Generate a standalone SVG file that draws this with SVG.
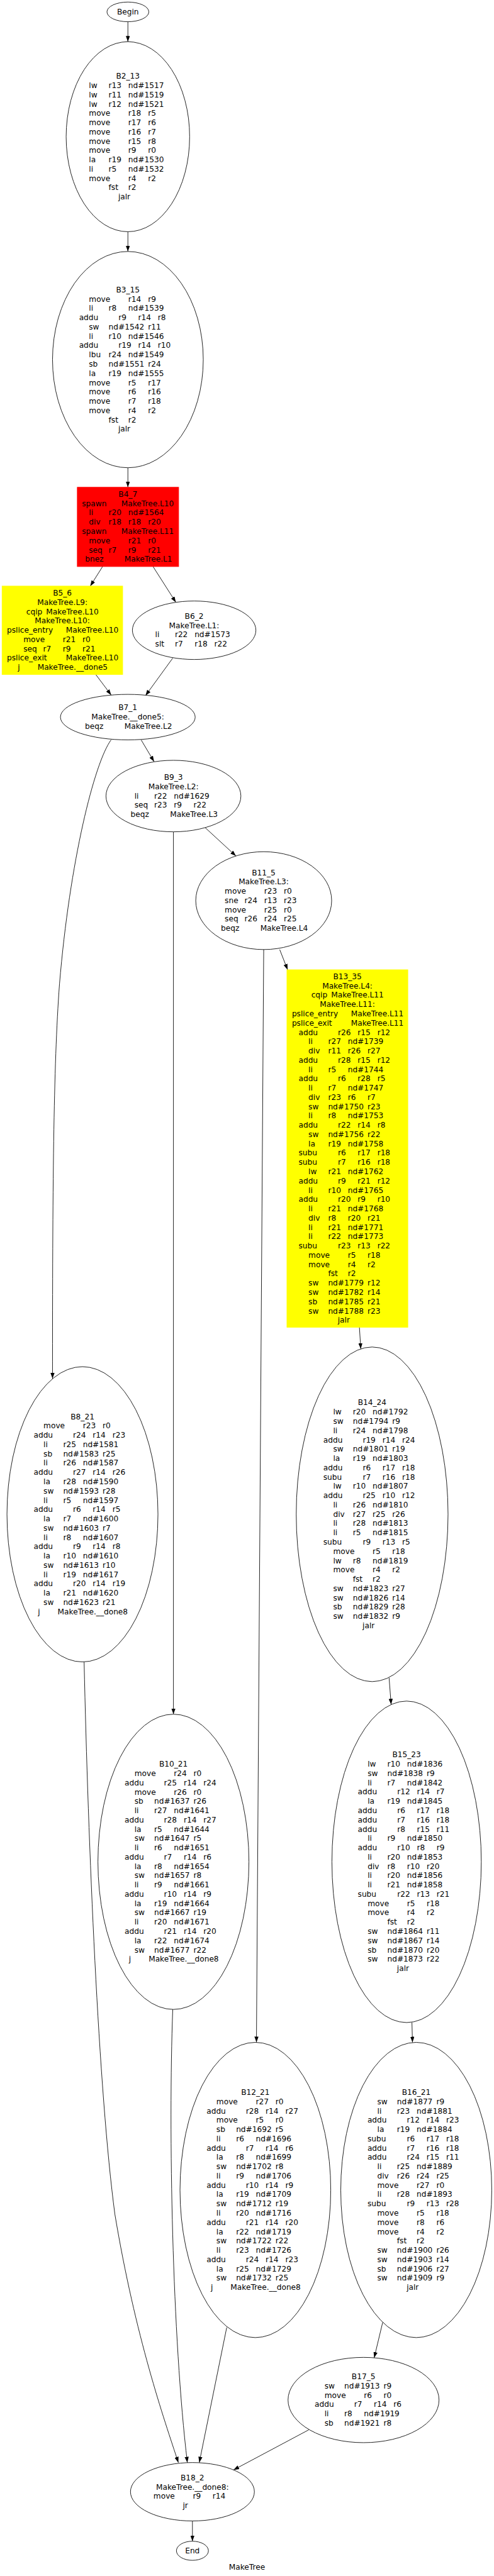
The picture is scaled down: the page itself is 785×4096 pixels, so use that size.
<svg xmlns="http://www.w3.org/2000/svg" width="785" height="4096" viewBox="0 0 785 4096">
<defs>
<style>
text{font-family:"DejaVu Sans",sans-serif;font-size:18.67px;fill:#000}
.c{text-anchor:middle}
.n{fill:#fff;stroke:#000;stroke-width:1.33}
.red{fill:#ff0000;stroke:#ff0000;stroke-width:1.33}
.yel{fill:#ffff00;stroke:#ffff00;stroke-width:1.33}
.e{fill:none;stroke:#000;stroke-width:1.33;marker-end:url(#arr)}
</style>
<marker id="arr" markerUnits="userSpaceOnUse" markerWidth="14" markerHeight="10" viewBox="0 0 14 10" refX="14" refY="5" orient="auto"><path d="M0,0 L14,5 L0,10 z" fill="#000"/></marker>
</defs>
<rect x="0" y="0" width="785" height="4096" fill="#fff"/>
<g transform="scale(0.652)">
<g id="edges">
<path class="e" d="M311.7,53 L311.7,101.7"/>
<path class="e" d="M311.7,565 L311.7,613.3"/>
<path class="e" d="M311.7,1140.7 L311.7,1188.3"/>
<path class="e" d="M250,1381.7 L220,1429.3"/>
<path class="e" d="M373,1381.7 L428.6,1468.9"/>
<path class="e" d="M233.4,1645 L271,1695"/>
<path class="e" d="M421,1605 L354.6,1696.5"/>
<path class="e" d="M344,1804.4 L375.5,1857.5"/>
<path class="e" d="M270.7,1804.4 C230,1860 170,2100 145,2400 C130,2600 128,2900 128,3362"/>
<path class="e" d="M422.7,2028.6 L422.7,4180.5"/>
<path class="e" d="M500,2018.4 L575,2087.5"/>
<path class="e" d="M681.7,2315.7 L701,2365"/>
<path class="e" d="M642.7,2315.7 L625,4980.8"/>
<path class="e" d="M876,3237 L879.3,3289.6"/>
<path class="e" d="M948.3,4091.7 L953.3,4157"/>
<path class="e" d="M1004,4932.5 L1005.3,4981"/>
<path class="e" d="M932.6,5664 L912,5750"/>
<path class="e" d="M752.6,5925.7 L568.9,6023.6"/>
<path class="e" d="M552.6,5676 L485.7,6005.6"/>
<path class="e" d="M421,4900.5 C410,5200 420,5700 456.6,6005.6"/>
<path class="e" d="M205,4053 C215,4500 240,5100 280,5400 C330,5700 400,5900 434.7,6005.6"/>
<path class="e" d="M469,6148 L469,6197.4"/>
</g>
<g id="Begin"><ellipse class="n" cx="311.7" cy="29" rx="51" ry="24"/><text class="c" x="311.7" y="34.9">Begin</text></g>
<g id="B2_13"><ellipse class="n" cx="311.7" cy="333.4" rx="150.5" ry="231.7"/>
<g transform="translate(311.7,192.1)"><text class="c" y="0">B2_13</text>
<text y="22.65"><tspan x="-95">lw</tspan><tspan x="-47">r13</tspan><tspan x="1">nd#1517</tspan></text>
<text y="45.3"><tspan x="-95">lw</tspan><tspan x="-47">r11</tspan><tspan x="1">nd#1519</tspan></text>
<text y="67.95"><tspan x="-95">lw</tspan><tspan x="-47">r12</tspan><tspan x="1">nd#1521</tspan></text>
<text y="90.6"><tspan x="-95">move</tspan><tspan x="1">r18</tspan><tspan x="49">r5</tspan></text>
<text y="113.25"><tspan x="-95">move</tspan><tspan x="1">r17</tspan><tspan x="49">r6</tspan></text>
<text y="135.9"><tspan x="-95">move</tspan><tspan x="1">r16</tspan><tspan x="49">r7</tspan></text>
<text y="158.55"><tspan x="-95">move</tspan><tspan x="1">r15</tspan><tspan x="49">r8</tspan></text>
<text y="181.2"><tspan x="-95">move</tspan><tspan x="1">r9</tspan><tspan x="49">r0</tspan></text>
<text y="203.85"><tspan x="-95">la</tspan><tspan x="-47">r19</tspan><tspan x="1">nd#1530</tspan></text>
<text y="226.5"><tspan x="-95">li</tspan><tspan x="-47">r5</tspan><tspan x="1">nd#1532</tspan></text>
<text y="249.15"><tspan x="-95">move</tspan><tspan x="1">r4</tspan><tspan x="49">r2</tspan></text>
<text y="271.8"><tspan x="-47">fst</tspan><tspan x="1">r2</tspan></text>
<text y="294.45"><tspan x="-23.5">jalr</tspan></text></g></g>
<g id="B3_15"><ellipse class="n" cx="311.7" cy="877" rx="183.7" ry="263.7"/>
<g transform="translate(311.7,713)"><text class="c" y="0">B3_15</text>
<text y="22.65"><tspan x="-95">move</tspan><tspan x="1">r14</tspan><tspan x="49">r9</tspan></text>
<text y="45.3"><tspan x="-95">li</tspan><tspan x="-47">r8</tspan><tspan x="1">nd#1539</tspan></text>
<text y="67.95"><tspan x="-119">addu</tspan><tspan x="-23">r9</tspan><tspan x="25">r14</tspan><tspan x="73">r8</tspan></text>
<text y="90.6"><tspan x="-95">sw</tspan><tspan x="-47">nd#1542</tspan><tspan x="49">r11</tspan></text>
<text y="113.25"><tspan x="-95">li</tspan><tspan x="-47">r10</tspan><tspan x="1">nd#1546</tspan></text>
<text y="135.9"><tspan x="-119">addu</tspan><tspan x="-23">r19</tspan><tspan x="25">r14</tspan><tspan x="73">r10</tspan></text>
<text y="158.55"><tspan x="-95">lbu</tspan><tspan x="-47">r24</tspan><tspan x="1">nd#1549</tspan></text>
<text y="181.2"><tspan x="-95">sb</tspan><tspan x="-47">nd#1551</tspan><tspan x="49">r24</tspan></text>
<text y="203.85"><tspan x="-95">la</tspan><tspan x="-47">r19</tspan><tspan x="1">nd#1555</tspan></text>
<text y="226.5"><tspan x="-95">move</tspan><tspan x="1">r5</tspan><tspan x="49">r17</tspan></text>
<text y="249.15"><tspan x="-95">move</tspan><tspan x="1">r6</tspan><tspan x="49">r16</tspan></text>
<text y="271.8"><tspan x="-95">move</tspan><tspan x="1">r7</tspan><tspan x="49">r18</tspan></text>
<text y="294.45"><tspan x="-95">move</tspan><tspan x="1">r4</tspan><tspan x="49">r2</tspan></text>
<text y="317.1"><tspan x="-47">fst</tspan><tspan x="1">r2</tspan></text>
<text y="339.75"><tspan x="-23.5">jalr</tspan></text></g></g>
<g id="B4_7"><rect class="red" x="188.4" y="1188.3" width="247" height="193.4"/>
<g transform="translate(311.7,1211.6)"><text class="c" y="0">B4_7</text>
<text y="22.65"><tspan x="-112">spawn</tspan><tspan x="-16">MakeTree.L10</tspan></text>
<text y="45.3"><tspan x="-95">li</tspan><tspan x="-47">r20</tspan><tspan x="1">nd#1564</tspan></text>
<text y="67.95"><tspan x="-95">div</tspan><tspan x="-47">r18</tspan><tspan x="1">r18</tspan><tspan x="49">r20</tspan></text>
<text y="90.6"><tspan x="-112">spawn</tspan><tspan x="-16">MakeTree.L11</tspan></text>
<text y="113.25"><tspan x="-95">move</tspan><tspan x="1">r21</tspan><tspan x="49">r0</tspan></text>
<text y="135.9"><tspan x="-95">seq</tspan><tspan x="-47">r7</tspan><tspan x="1">r9</tspan><tspan x="49">r21</tspan></text>
<text y="158.55"><tspan x="-104.3">bnez</tspan><tspan x="-8.3">MakeTree.L1</tspan></text></g></g>
<g id="B5_6"><rect class="yel" x="5" y="1429.3" width="294" height="215.7"/>
<g transform="translate(152,1452.5)"><text class="c" y="0">B5_6</text>
<text class="c" y="22.65">MakeTree.L9:</text>
<text y="45.3"><tspan x="-88">cqip</tspan><tspan x="-39.5">MakeTree.L10</tspan></text>
<text class="c" y="67.95">MakeTree.L10:</text>
<text y="90.6"><tspan x="-135.2">pslice_entry</tspan><tspan x="8.8">MakeTree.L10</tspan></text>
<text y="113.25"><tspan x="-95">move</tspan><tspan x="1">r21</tspan><tspan x="49">r0</tspan></text>
<text y="135.9"><tspan x="-95">seq</tspan><tspan x="-47">r7</tspan><tspan x="1">r9</tspan><tspan x="49">r21</tspan></text>
<text y="158.55"><tspan x="-135.2">pslice_exit</tspan><tspan x="8.8">MakeTree.L10</tspan></text>
<text y="181.2"><tspan x="-108.5">j</tspan><tspan x="-60.5">MakeTree.__done5</tspan></text></g></g>
<g id="B6_2"><ellipse class="n" cx="473.2" cy="1537" rx="150.5" ry="71.3"/>
<g transform="translate(473.2,1508.9)"><text class="c" y="0">B6_2</text>
<text class="c" y="22.65">MakeTree.L1:</text>
<text y="45.3"><tspan x="-95">li</tspan><tspan x="-47">r22</tspan><tspan x="1">nd#1573</tspan></text>
<text y="67.95"><tspan x="-95">slt</tspan><tspan x="-47">r7</tspan><tspan x="1">r18</tspan><tspan x="49">r22</tspan></text></g></g>
<g id="B7_1"><ellipse class="n" cx="311.5" cy="1748.9" rx="164.2" ry="55.5"/>
<g transform="translate(311.5,1732.2)"><text class="c" y="0">B7_1</text>
<text class="c" y="22.65">MakeTree.__done5:</text>
<text y="45.3"><tspan x="-104.3">beqz</tspan><tspan x="-8.3">MakeTree.L2</tspan></text></g></g>
<g id="B8_21"><ellipse class="n" cx="201" cy="3693" rx="184" ry="360"/>
<g transform="translate(201,3461.1)"><text class="c" y="0">B8_21</text>
<text y="22.65"><tspan x="-95">move</tspan><tspan x="1">r23</tspan><tspan x="49">r0</tspan></text>
<text y="45.3"><tspan x="-119">addu</tspan><tspan x="-23">r24</tspan><tspan x="25">r14</tspan><tspan x="73">r23</tspan></text>
<text y="67.95"><tspan x="-95">li</tspan><tspan x="-47">r25</tspan><tspan x="1">nd#1581</tspan></text>
<text y="90.6"><tspan x="-95">sb</tspan><tspan x="-47">nd#1583</tspan><tspan x="49">r25</tspan></text>
<text y="113.25"><tspan x="-95">li</tspan><tspan x="-47">r26</tspan><tspan x="1">nd#1587</tspan></text>
<text y="135.9"><tspan x="-119">addu</tspan><tspan x="-23">r27</tspan><tspan x="25">r14</tspan><tspan x="73">r26</tspan></text>
<text y="158.55"><tspan x="-95">la</tspan><tspan x="-47">r28</tspan><tspan x="1">nd#1590</tspan></text>
<text y="181.2"><tspan x="-95">sw</tspan><tspan x="-47">nd#1593</tspan><tspan x="49">r28</tspan></text>
<text y="203.85"><tspan x="-95">li</tspan><tspan x="-47">r5</tspan><tspan x="1">nd#1597</tspan></text>
<text y="226.5"><tspan x="-119">addu</tspan><tspan x="-23">r6</tspan><tspan x="25">r14</tspan><tspan x="73">r5</tspan></text>
<text y="249.15"><tspan x="-95">la</tspan><tspan x="-47">r7</tspan><tspan x="1">nd#1600</tspan></text>
<text y="271.8"><tspan x="-95">sw</tspan><tspan x="-47">nd#1603</tspan><tspan x="49">r7</tspan></text>
<text y="294.45"><tspan x="-95">li</tspan><tspan x="-47">r8</tspan><tspan x="1">nd#1607</tspan></text>
<text y="317.1"><tspan x="-119">addu</tspan><tspan x="-23">r9</tspan><tspan x="25">r14</tspan><tspan x="73">r8</tspan></text>
<text y="339.75"><tspan x="-95">la</tspan><tspan x="-47">r10</tspan><tspan x="1">nd#1610</tspan></text>
<text y="362.4"><tspan x="-95">sw</tspan><tspan x="-47">nd#1613</tspan><tspan x="49">r10</tspan></text>
<text y="385.05"><tspan x="-95">li</tspan><tspan x="-47">r19</tspan><tspan x="1">nd#1617</tspan></text>
<text y="407.7"><tspan x="-119">addu</tspan><tspan x="-23">r20</tspan><tspan x="25">r14</tspan><tspan x="73">r19</tspan></text>
<text y="430.35"><tspan x="-95">la</tspan><tspan x="-47">r21</tspan><tspan x="1">nd#1620</tspan></text>
<text y="453"><tspan x="-95">sw</tspan><tspan x="-47">nd#1623</tspan><tspan x="49">r21</tspan></text>
<text y="475.65"><tspan x="-108.5">j</tspan><tspan x="-60.5">MakeTree.__done8</tspan></text></g></g>
<g id="B9_3"><ellipse class="n" cx="422.7" cy="1941.4" rx="164.4" ry="87.2"/>
<g transform="translate(422.7,1902)"><text class="c" y="0">B9_3</text>
<text class="c" y="22.65">MakeTree.L2:</text>
<text y="45.3"><tspan x="-95">li</tspan><tspan x="-47">r22</tspan><tspan x="1">nd#1629</tspan></text>
<text y="67.95"><tspan x="-95">seq</tspan><tspan x="-47">r23</tspan><tspan x="1">r9</tspan><tspan x="49">r22</tspan></text>
<text y="90.6"><tspan x="-104.3">beqz</tspan><tspan x="-8.3">MakeTree.L3</tspan></text></g></g>
<g id="B10_21"><ellipse class="n" cx="422.7" cy="4540.5" rx="184" ry="360"/>
<g transform="translate(422.7,4308.6)"><text class="c" y="0">B10_21</text>
<text y="22.65"><tspan x="-95">move</tspan><tspan x="1">r24</tspan><tspan x="49">r0</tspan></text>
<text y="45.3"><tspan x="-119">addu</tspan><tspan x="-23">r25</tspan><tspan x="25">r14</tspan><tspan x="73">r24</tspan></text>
<text y="67.95"><tspan x="-95">move</tspan><tspan x="1">r26</tspan><tspan x="49">r0</tspan></text>
<text y="90.6"><tspan x="-95">sb</tspan><tspan x="-47">nd#1637</tspan><tspan x="49">r26</tspan></text>
<text y="113.25"><tspan x="-95">li</tspan><tspan x="-47">r27</tspan><tspan x="1">nd#1641</tspan></text>
<text y="135.9"><tspan x="-119">addu</tspan><tspan x="-23">r28</tspan><tspan x="25">r14</tspan><tspan x="73">r27</tspan></text>
<text y="158.55"><tspan x="-95">la</tspan><tspan x="-47">r5</tspan><tspan x="1">nd#1644</tspan></text>
<text y="181.2"><tspan x="-95">sw</tspan><tspan x="-47">nd#1647</tspan><tspan x="49">r5</tspan></text>
<text y="203.85"><tspan x="-95">li</tspan><tspan x="-47">r6</tspan><tspan x="1">nd#1651</tspan></text>
<text y="226.5"><tspan x="-119">addu</tspan><tspan x="-23">r7</tspan><tspan x="25">r14</tspan><tspan x="73">r6</tspan></text>
<text y="249.15"><tspan x="-95">la</tspan><tspan x="-47">r8</tspan><tspan x="1">nd#1654</tspan></text>
<text y="271.8"><tspan x="-95">sw</tspan><tspan x="-47">nd#1657</tspan><tspan x="49">r8</tspan></text>
<text y="294.45"><tspan x="-95">li</tspan><tspan x="-47">r9</tspan><tspan x="1">nd#1661</tspan></text>
<text y="317.1"><tspan x="-119">addu</tspan><tspan x="-23">r10</tspan><tspan x="25">r14</tspan><tspan x="73">r9</tspan></text>
<text y="339.75"><tspan x="-95">la</tspan><tspan x="-47">r19</tspan><tspan x="1">nd#1664</tspan></text>
<text y="362.4"><tspan x="-95">sw</tspan><tspan x="-47">nd#1667</tspan><tspan x="49">r19</tspan></text>
<text y="385.05"><tspan x="-95">li</tspan><tspan x="-47">r20</tspan><tspan x="1">nd#1671</tspan></text>
<text y="407.7"><tspan x="-119">addu</tspan><tspan x="-23">r21</tspan><tspan x="25">r14</tspan><tspan x="73">r20</tspan></text>
<text y="430.35"><tspan x="-95">la</tspan><tspan x="-47">r22</tspan><tspan x="1">nd#1674</tspan></text>
<text y="453"><tspan x="-95">sw</tspan><tspan x="-47">nd#1677</tspan><tspan x="49">r22</tspan></text>
<text y="475.65"><tspan x="-108.5">j</tspan><tspan x="-60.5">MakeTree.__done8</tspan></text></g></g>
<g id="B11_5"><ellipse class="n" cx="642.7" cy="2196.4" rx="165.6" ry="119.3"/>
<g transform="translate(642.7,2134.4)"><text class="c" y="0">B11_5</text>
<text class="c" y="22.65">MakeTree.L3:</text>
<text y="45.3"><tspan x="-95">move</tspan><tspan x="1">r23</tspan><tspan x="49">r0</tspan></text>
<text y="67.95"><tspan x="-95">sne</tspan><tspan x="-47">r24</tspan><tspan x="1">r13</tspan><tspan x="49">r23</tspan></text>
<text y="90.6"><tspan x="-95">move</tspan><tspan x="1">r25</tspan><tspan x="49">r0</tspan></text>
<text y="113.25"><tspan x="-95">seq</tspan><tspan x="-47">r26</tspan><tspan x="1">r24</tspan><tspan x="49">r25</tspan></text>
<text y="135.9"><tspan x="-104.3">beqz</tspan><tspan x="-8.3">MakeTree.L4</tspan></text></g></g>
<g id="B12_21"><ellipse class="n" cx="622.4" cy="5340.8" rx="183.7" ry="360"/>
<g transform="translate(622.4,5108.9)"><text class="c" y="0">B12_21</text>
<text y="22.65"><tspan x="-95">move</tspan><tspan x="1">r27</tspan><tspan x="49">r0</tspan></text>
<text y="45.3"><tspan x="-119">addu</tspan><tspan x="-23">r28</tspan><tspan x="25">r14</tspan><tspan x="73">r27</tspan></text>
<text y="67.95"><tspan x="-95">move</tspan><tspan x="1">r5</tspan><tspan x="49">r0</tspan></text>
<text y="90.6"><tspan x="-95">sb</tspan><tspan x="-47">nd#1692</tspan><tspan x="49">r5</tspan></text>
<text y="113.25"><tspan x="-95">li</tspan><tspan x="-47">r6</tspan><tspan x="1">nd#1696</tspan></text>
<text y="135.9"><tspan x="-119">addu</tspan><tspan x="-23">r7</tspan><tspan x="25">r14</tspan><tspan x="73">r6</tspan></text>
<text y="158.55"><tspan x="-95">la</tspan><tspan x="-47">r8</tspan><tspan x="1">nd#1699</tspan></text>
<text y="181.2"><tspan x="-95">sw</tspan><tspan x="-47">nd#1702</tspan><tspan x="49">r8</tspan></text>
<text y="203.85"><tspan x="-95">li</tspan><tspan x="-47">r9</tspan><tspan x="1">nd#1706</tspan></text>
<text y="226.5"><tspan x="-119">addu</tspan><tspan x="-23">r10</tspan><tspan x="25">r14</tspan><tspan x="73">r9</tspan></text>
<text y="249.15"><tspan x="-95">la</tspan><tspan x="-47">r19</tspan><tspan x="1">nd#1709</tspan></text>
<text y="271.8"><tspan x="-95">sw</tspan><tspan x="-47">nd#1712</tspan><tspan x="49">r19</tspan></text>
<text y="294.45"><tspan x="-95">li</tspan><tspan x="-47">r20</tspan><tspan x="1">nd#1716</tspan></text>
<text y="317.1"><tspan x="-119">addu</tspan><tspan x="-23">r21</tspan><tspan x="25">r14</tspan><tspan x="73">r20</tspan></text>
<text y="339.75"><tspan x="-95">la</tspan><tspan x="-47">r22</tspan><tspan x="1">nd#1719</tspan></text>
<text y="362.4"><tspan x="-95">sw</tspan><tspan x="-47">nd#1722</tspan><tspan x="49">r22</tspan></text>
<text y="385.05"><tspan x="-95">li</tspan><tspan x="-47">r23</tspan><tspan x="1">nd#1726</tspan></text>
<text y="407.7"><tspan x="-119">addu</tspan><tspan x="-23">r24</tspan><tspan x="25">r14</tspan><tspan x="73">r23</tspan></text>
<text y="430.35"><tspan x="-95">la</tspan><tspan x="-47">r25</tspan><tspan x="1">nd#1729</tspan></text>
<text y="453"><tspan x="-95">sw</tspan><tspan x="-47">nd#1732</tspan><tspan x="49">r25</tspan></text>
<text y="475.65"><tspan x="-108.5">j</tspan><tspan x="-60.5">MakeTree.__done8</tspan></text></g></g>
<g id="B13_35"><rect class="yel" x="699.3" y="2365" width="294.7" height="872"/>
<g transform="translate(846.7,2387.9)"><text class="c" y="0">B13_35</text>
<text class="c" y="22.65">MakeTree.L4:</text>
<text y="45.3"><tspan x="-88">cqip</tspan><tspan x="-39.5">MakeTree.L11</tspan></text>
<text class="c" y="67.95">MakeTree.L11:</text>
<text y="90.6"><tspan x="-135.2">pslice_entry</tspan><tspan x="8.8">MakeTree.L11</tspan></text>
<text y="113.25"><tspan x="-135.2">pslice_exit</tspan><tspan x="8.8">MakeTree.L11</tspan></text>
<text y="135.9"><tspan x="-119">addu</tspan><tspan x="-23">r26</tspan><tspan x="25">r15</tspan><tspan x="73">r12</tspan></text>
<text y="158.55"><tspan x="-95">li</tspan><tspan x="-47">r27</tspan><tspan x="1">nd#1739</tspan></text>
<text y="181.2"><tspan x="-95">div</tspan><tspan x="-47">r11</tspan><tspan x="1">r26</tspan><tspan x="49">r27</tspan></text>
<text y="203.85"><tspan x="-119">addu</tspan><tspan x="-23">r28</tspan><tspan x="25">r15</tspan><tspan x="73">r12</tspan></text>
<text y="226.5"><tspan x="-95">li</tspan><tspan x="-47">r5</tspan><tspan x="1">nd#1744</tspan></text>
<text y="249.15"><tspan x="-119">addu</tspan><tspan x="-23">r6</tspan><tspan x="25">r28</tspan><tspan x="73">r5</tspan></text>
<text y="271.8"><tspan x="-95">li</tspan><tspan x="-47">r7</tspan><tspan x="1">nd#1747</tspan></text>
<text y="294.45"><tspan x="-95">div</tspan><tspan x="-47">r23</tspan><tspan x="1">r6</tspan><tspan x="49">r7</tspan></text>
<text y="317.1"><tspan x="-95">sw</tspan><tspan x="-47">nd#1750</tspan><tspan x="49">r23</tspan></text>
<text y="339.75"><tspan x="-95">li</tspan><tspan x="-47">r8</tspan><tspan x="1">nd#1753</tspan></text>
<text y="362.4"><tspan x="-119">addu</tspan><tspan x="-23">r22</tspan><tspan x="25">r14</tspan><tspan x="73">r8</tspan></text>
<text y="385.05"><tspan x="-95">sw</tspan><tspan x="-47">nd#1756</tspan><tspan x="49">r22</tspan></text>
<text y="407.7"><tspan x="-95">la</tspan><tspan x="-47">r19</tspan><tspan x="1">nd#1758</tspan></text>
<text y="430.35"><tspan x="-119">subu</tspan><tspan x="-23">r6</tspan><tspan x="25">r17</tspan><tspan x="73">r18</tspan></text>
<text y="453"><tspan x="-119">subu</tspan><tspan x="-23">r7</tspan><tspan x="25">r16</tspan><tspan x="73">r18</tspan></text>
<text y="475.65"><tspan x="-95">lw</tspan><tspan x="-47">r21</tspan><tspan x="1">nd#1762</tspan></text>
<text y="498.3"><tspan x="-119">addu</tspan><tspan x="-23">r9</tspan><tspan x="25">r21</tspan><tspan x="73">r12</tspan></text>
<text y="520.95"><tspan x="-95">li</tspan><tspan x="-47">r10</tspan><tspan x="1">nd#1765</tspan></text>
<text y="543.6"><tspan x="-119">addu</tspan><tspan x="-23">r20</tspan><tspan x="25">r9</tspan><tspan x="73">r10</tspan></text>
<text y="566.25"><tspan x="-95">li</tspan><tspan x="-47">r21</tspan><tspan x="1">nd#1768</tspan></text>
<text y="588.9"><tspan x="-95">div</tspan><tspan x="-47">r8</tspan><tspan x="1">r20</tspan><tspan x="49">r21</tspan></text>
<text y="611.55"><tspan x="-95">li</tspan><tspan x="-47">r21</tspan><tspan x="1">nd#1771</tspan></text>
<text y="634.2"><tspan x="-95">li</tspan><tspan x="-47">r22</tspan><tspan x="1">nd#1773</tspan></text>
<text y="656.85"><tspan x="-119">subu</tspan><tspan x="-23">r23</tspan><tspan x="25">r13</tspan><tspan x="73">r22</tspan></text>
<text y="679.5"><tspan x="-95">move</tspan><tspan x="1">r5</tspan><tspan x="49">r18</tspan></text>
<text y="702.15"><tspan x="-95">move</tspan><tspan x="1">r4</tspan><tspan x="49">r2</tspan></text>
<text y="724.8"><tspan x="-47">fst</tspan><tspan x="1">r2</tspan></text>
<text y="747.45"><tspan x="-95">sw</tspan><tspan x="-47">nd#1779</tspan><tspan x="49">r12</tspan></text>
<text y="770.1"><tspan x="-95">sw</tspan><tspan x="-47">nd#1782</tspan><tspan x="49">r14</tspan></text>
<text y="792.75"><tspan x="-95">sb</tspan><tspan x="-47">nd#1785</tspan><tspan x="49">r21</tspan></text>
<text y="815.4"><tspan x="-95">sw</tspan><tspan x="-47">nd#1788</tspan><tspan x="49">r23</tspan></text>
<text y="838.05"><tspan x="-23.5">jalr</tspan></text></g></g>
<g id="B14_24"><ellipse class="n" cx="907" cy="3693" rx="185" ry="408"/>
<g transform="translate(907,3427.1)"><text class="c" y="0">B14_24</text>
<text y="22.65"><tspan x="-95">lw</tspan><tspan x="-47">r20</tspan><tspan x="1">nd#1792</tspan></text>
<text y="45.3"><tspan x="-95">sw</tspan><tspan x="-47">nd#1794</tspan><tspan x="49">r9</tspan></text>
<text y="67.95"><tspan x="-95">li</tspan><tspan x="-47">r24</tspan><tspan x="1">nd#1798</tspan></text>
<text y="90.6"><tspan x="-119">addu</tspan><tspan x="-23">r19</tspan><tspan x="25">r14</tspan><tspan x="73">r24</tspan></text>
<text y="113.25"><tspan x="-95">sw</tspan><tspan x="-47">nd#1801</tspan><tspan x="49">r19</tspan></text>
<text y="135.9"><tspan x="-95">la</tspan><tspan x="-47">r19</tspan><tspan x="1">nd#1803</tspan></text>
<text y="158.55"><tspan x="-119">addu</tspan><tspan x="-23">r6</tspan><tspan x="25">r17</tspan><tspan x="73">r18</tspan></text>
<text y="181.2"><tspan x="-119">subu</tspan><tspan x="-23">r7</tspan><tspan x="25">r16</tspan><tspan x="73">r18</tspan></text>
<text y="203.85"><tspan x="-95">lw</tspan><tspan x="-47">r10</tspan><tspan x="1">nd#1807</tspan></text>
<text y="226.5"><tspan x="-119">addu</tspan><tspan x="-23">r25</tspan><tspan x="25">r10</tspan><tspan x="73">r12</tspan></text>
<text y="249.15"><tspan x="-95">li</tspan><tspan x="-47">r26</tspan><tspan x="1">nd#1810</tspan></text>
<text y="271.8"><tspan x="-95">div</tspan><tspan x="-47">r27</tspan><tspan x="1">r25</tspan><tspan x="49">r26</tspan></text>
<text y="294.45"><tspan x="-95">li</tspan><tspan x="-47">r28</tspan><tspan x="1">nd#1813</tspan></text>
<text y="317.1"><tspan x="-95">li</tspan><tspan x="-47">r5</tspan><tspan x="1">nd#1815</tspan></text>
<text y="339.75"><tspan x="-119">subu</tspan><tspan x="-23">r9</tspan><tspan x="25">r13</tspan><tspan x="73">r5</tspan></text>
<text y="362.4"><tspan x="-95">move</tspan><tspan x="1">r5</tspan><tspan x="49">r18</tspan></text>
<text y="385.05"><tspan x="-95">lw</tspan><tspan x="-47">r8</tspan><tspan x="1">nd#1819</tspan></text>
<text y="407.7"><tspan x="-95">move</tspan><tspan x="1">r4</tspan><tspan x="49">r2</tspan></text>
<text y="430.35"><tspan x="-47">fst</tspan><tspan x="1">r2</tspan></text>
<text y="453"><tspan x="-95">sw</tspan><tspan x="-47">nd#1823</tspan><tspan x="49">r27</tspan></text>
<text y="475.65"><tspan x="-95">sw</tspan><tspan x="-47">nd#1826</tspan><tspan x="49">r14</tspan></text>
<text y="498.3"><tspan x="-95">sb</tspan><tspan x="-47">nd#1829</tspan><tspan x="49">r28</tspan></text>
<text y="520.95"><tspan x="-95">sw</tspan><tspan x="-47">nd#1832</tspan><tspan x="49">r9</tspan></text>
<text y="543.6"><tspan x="-23.5">jalr</tspan></text></g></g>
<g id="B15_23"><ellipse class="n" cx="991" cy="4540.5" rx="182" ry="392"/>
<g transform="translate(991,4285.9)"><text class="c" y="0">B15_23</text>
<text y="22.65"><tspan x="-95">lw</tspan><tspan x="-47">r10</tspan><tspan x="1">nd#1836</tspan></text>
<text y="45.3"><tspan x="-95">sw</tspan><tspan x="-47">nd#1838</tspan><tspan x="49">r9</tspan></text>
<text y="67.95"><tspan x="-95">li</tspan><tspan x="-47">r7</tspan><tspan x="1">nd#1842</tspan></text>
<text y="90.6"><tspan x="-119">addu</tspan><tspan x="-23">r12</tspan><tspan x="25">r14</tspan><tspan x="73">r7</tspan></text>
<text y="113.25"><tspan x="-95">la</tspan><tspan x="-47">r19</tspan><tspan x="1">nd#1845</tspan></text>
<text y="135.9"><tspan x="-119">addu</tspan><tspan x="-23">r6</tspan><tspan x="25">r17</tspan><tspan x="73">r18</tspan></text>
<text y="158.55"><tspan x="-119">addu</tspan><tspan x="-23">r7</tspan><tspan x="25">r16</tspan><tspan x="73">r18</tspan></text>
<text y="181.2"><tspan x="-119">addu</tspan><tspan x="-23">r8</tspan><tspan x="25">r15</tspan><tspan x="73">r11</tspan></text>
<text y="203.85"><tspan x="-95">li</tspan><tspan x="-47">r9</tspan><tspan x="1">nd#1850</tspan></text>
<text y="226.5"><tspan x="-119">addu</tspan><tspan x="-23">r10</tspan><tspan x="25">r8</tspan><tspan x="73">r9</tspan></text>
<text y="249.15"><tspan x="-95">li</tspan><tspan x="-47">r20</tspan><tspan x="1">nd#1853</tspan></text>
<text y="271.8"><tspan x="-95">div</tspan><tspan x="-47">r8</tspan><tspan x="1">r10</tspan><tspan x="49">r20</tspan></text>
<text y="294.45"><tspan x="-95">li</tspan><tspan x="-47">r20</tspan><tspan x="1">nd#1856</tspan></text>
<text y="317.1"><tspan x="-95">li</tspan><tspan x="-47">r21</tspan><tspan x="1">nd#1858</tspan></text>
<text y="339.75"><tspan x="-119">subu</tspan><tspan x="-23">r22</tspan><tspan x="25">r13</tspan><tspan x="73">r21</tspan></text>
<text y="362.4"><tspan x="-95">move</tspan><tspan x="1">r5</tspan><tspan x="49">r18</tspan></text>
<text y="385.05"><tspan x="-95">move</tspan><tspan x="1">r4</tspan><tspan x="49">r2</tspan></text>
<text y="407.7"><tspan x="-47">fst</tspan><tspan x="1">r2</tspan></text>
<text y="430.35"><tspan x="-95">sw</tspan><tspan x="-47">nd#1864</tspan><tspan x="49">r11</tspan></text>
<text y="453"><tspan x="-95">sw</tspan><tspan x="-47">nd#1867</tspan><tspan x="49">r14</tspan></text>
<text y="475.65"><tspan x="-95">sb</tspan><tspan x="-47">nd#1870</tspan><tspan x="49">r20</tspan></text>
<text y="498.3"><tspan x="-95">sw</tspan><tspan x="-47">nd#1873</tspan><tspan x="49">r22</tspan></text>
<text y="520.95"><tspan x="-23.5">jalr</tspan></text></g></g>
<g id="B16_21"><ellipse class="n" cx="1014.5" cy="5340.8" rx="184" ry="360"/>
<g transform="translate(1014.5,5108.9)"><text class="c" y="0">B16_21</text>
<text y="22.65"><tspan x="-95">sw</tspan><tspan x="-47">nd#1877</tspan><tspan x="49">r9</tspan></text>
<text y="45.3"><tspan x="-95">li</tspan><tspan x="-47">r23</tspan><tspan x="1">nd#1881</tspan></text>
<text y="67.95"><tspan x="-119">addu</tspan><tspan x="-23">r12</tspan><tspan x="25">r14</tspan><tspan x="73">r23</tspan></text>
<text y="90.6"><tspan x="-95">la</tspan><tspan x="-47">r19</tspan><tspan x="1">nd#1884</tspan></text>
<text y="113.25"><tspan x="-119">subu</tspan><tspan x="-23">r6</tspan><tspan x="25">r17</tspan><tspan x="73">r18</tspan></text>
<text y="135.9"><tspan x="-119">addu</tspan><tspan x="-23">r7</tspan><tspan x="25">r16</tspan><tspan x="73">r18</tspan></text>
<text y="158.55"><tspan x="-119">addu</tspan><tspan x="-23">r24</tspan><tspan x="25">r15</tspan><tspan x="73">r11</tspan></text>
<text y="181.2"><tspan x="-95">li</tspan><tspan x="-47">r25</tspan><tspan x="1">nd#1889</tspan></text>
<text y="203.85"><tspan x="-95">div</tspan><tspan x="-47">r26</tspan><tspan x="1">r24</tspan><tspan x="49">r25</tspan></text>
<text y="226.5"><tspan x="-95">move</tspan><tspan x="1">r27</tspan><tspan x="49">r0</tspan></text>
<text y="249.15"><tspan x="-95">li</tspan><tspan x="-47">r28</tspan><tspan x="1">nd#1893</tspan></text>
<text y="271.8"><tspan x="-119">subu</tspan><tspan x="-23">r9</tspan><tspan x="25">r13</tspan><tspan x="73">r28</tspan></text>
<text y="294.45"><tspan x="-95">move</tspan><tspan x="1">r5</tspan><tspan x="49">r18</tspan></text>
<text y="317.1"><tspan x="-95">move</tspan><tspan x="1">r8</tspan><tspan x="49">r6</tspan></text>
<text y="339.75"><tspan x="-95">move</tspan><tspan x="1">r4</tspan><tspan x="49">r2</tspan></text>
<text y="362.4"><tspan x="-47">fst</tspan><tspan x="1">r2</tspan></text>
<text y="385.05"><tspan x="-95">sw</tspan><tspan x="-47">nd#1900</tspan><tspan x="49">r26</tspan></text>
<text y="407.7"><tspan x="-95">sw</tspan><tspan x="-47">nd#1903</tspan><tspan x="49">r14</tspan></text>
<text y="430.35"><tspan x="-95">sb</tspan><tspan x="-47">nd#1906</tspan><tspan x="49">r27</tspan></text>
<text y="453"><tspan x="-95">sw</tspan><tspan x="-47">nd#1909</tspan><tspan x="49">r9</tspan></text>
<text y="475.65"><tspan x="-23.5">jalr</tspan></text></g></g>
<g id="B17_5"><ellipse class="n" cx="886" cy="5853" rx="184" ry="104"/>
<g transform="translate(886,5802.3)"><text class="c" y="0">B17_5</text>
<text y="22.65"><tspan x="-95">sw</tspan><tspan x="-47">nd#1913</tspan><tspan x="49">r9</tspan></text>
<text y="45.3"><tspan x="-95">move</tspan><tspan x="1">r6</tspan><tspan x="49">r0</tspan></text>
<text y="67.95"><tspan x="-119">addu</tspan><tspan x="-23">r7</tspan><tspan x="25">r14</tspan><tspan x="73">r6</tspan></text>
<text y="90.6"><tspan x="-95">li</tspan><tspan x="-47">r8</tspan><tspan x="1">nd#1919</tspan></text>
<text y="113.25"><tspan x="-95">sb</tspan><tspan x="-47">nd#1921</tspan><tspan x="49">r8</tspan></text></g></g>
<g id="B18_2"><ellipse class="n" cx="469" cy="6076.8" rx="151" ry="71.2"/>
<g transform="translate(469,6048.7)"><text class="c" y="0">B18_2</text>
<text class="c" y="22.65">MakeTree.__done8:</text>
<text y="45.3"><tspan x="-95">move</tspan><tspan x="1">r9</tspan><tspan x="49">r14</tspan></text>
<text y="67.95"><tspan x="-23.5">jr</tspan></text></g></g>
<g id="End"><ellipse class="n" cx="469" cy="6220.7" rx="39" ry="23.3"/><text class="c" x="469" y="6226.6">End</text></g>
<text class="c" x="602" y="6267">MakeTree</text>
</g>
</svg>
